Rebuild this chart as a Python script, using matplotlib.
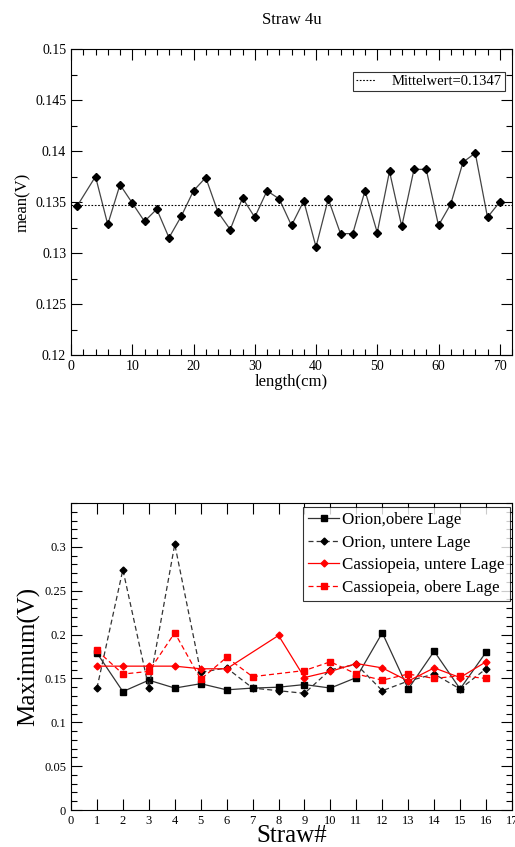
import matplotlib
matplotlib.use("Agg")
import matplotlib.pyplot as plt
from matplotlib.ticker import MultipleLocator
import numpy as np

plt.rcParams['font.family'] = ['Liberation Serif', 'DejaVu Serif']

# --- top chart data ---
length_cm = [1, 4, 6, 8, 10, 12, 14, 16, 18, 20, 22, 24, 26, 28, 30, 32, 34, 36,
             38, 40, 42, 44, 46, 48, 50, 52, 54, 56, 58, 60, 62, 64, 66, 68, 70]
mean_v = [0.1346, 0.1375, 0.1328, 0.1367, 0.1349, 0.1331, 0.1343, 0.1315, 0.1336,
          0.1361, 0.1374, 0.1340, 0.1323, 0.1354, 0.1335, 0.1361, 0.1353, 0.1327,
          0.1351, 0.1306, 0.1353, 0.1319, 0.1319, 0.1361, 0.1320, 0.1380, 0.1326,
          0.1382, 0.1382, 0.1327, 0.1348, 0.1389, 0.1398, 0.1335, 0.1350]
mittelwert = 0.1347

# --- bottom chart data ---
straw = [1, 2, 3, 4, 5, 6, 7, 8, 9, 10, 11, 12, 13, 14, 15, 16]
orion_obere = [0.179, 0.135, 0.148, 0.139, 0.144, 0.137, 0.139, 0.140, 0.143,
               0.139, 0.151, 0.202, 0.138, 0.181, 0.138, 0.180]
orion_untere = [0.139, 0.274, 0.139, 0.303, 0.157, 0.162, 0.139, 0.136, 0.133,
                0.160, 0.166, 0.136, 0.147, 0.155, 0.138, 0.161]
cas_untere_x = [1, 2, 3, 4, 5, 6, 8, 9, 10, 11, 12, 13, 14, 15, 16]
cas_untere = [0.164, 0.164, 0.164, 0.164, 0.161, 0.161, 0.199, 0.151, 0.158,
              0.167, 0.162, 0.147, 0.162, 0.151, 0.169]
cas_obere_x = [1, 2, 3, 4, 5, 6, 7, 9, 10, 11, 12, 13, 14, 15, 16]
cas_obere = [0.182, 0.155, 0.158, 0.202, 0.149, 0.174, 0.152, 0.159, 0.169,
             0.155, 0.148, 0.155, 0.150, 0.153, 0.150]

W, H = 515, 847
fig = plt.figure(figsize=(W / 100, H / 100), dpi=100)

def rect(l, t, r, b):
    return [l / W, 1 - b / H, (r - l) / W, (b - t) / H]

# ---------- top ----------
ax1 = fig.add_axes(rect(71, 49, 512, 355))
ax1.plot(length_cm, mean_v, color='#444444', lw=0.9, marker='D', ms=4.5,
         mfc='black', mec='black')
ax1.axhline(mittelwert, color='black', lw=0.8, ls=(0, (1.5, 1.5)),
            label='Mittelwert=0.1347')
ax1.set_xlim(0, 72)
ax1.set_ylim(0.12, 0.15)
ax1.xaxis.set_major_locator(MultipleLocator(10))
ax1.xaxis.set_minor_locator(MultipleLocator(2))
ax1.yaxis.set_minor_locator(MultipleLocator(0.0025))
ax1.tick_params(which='both', direction='in', top=True, right=True, labelsize=10)
ax1.tick_params(which='major', length=8, width=0.8)
ax1.tick_params(which='minor', length=4, width=0.8)
ax1.set_yticks([0.12, 0.125, 0.13, 0.135, 0.14, 0.145, 0.15])
ax1.set_yticklabels(['0.12', '0.125', '0.13', '0.135', '0.14', '0.145', '0.15'])
ax1.set_xlabel('length(cm)', fontsize=12, labelpad=1)
ax1.set_ylabel('mean(V)', fontsize=12, labelpad=3)
ax1.set_title('Straw 4u', fontsize=12, pad=18)
leg1 = ax1.legend(loc='upper right', bbox_to_anchor=(0.984, 0.925), fontsize=10.5,
                  frameon=True, fancybox=False, edgecolor='black',
                  handlelength=1.3, borderpad=0.2, handletextpad=1.2,
                  borderaxespad=0)
leg1.get_frame().set_linewidth(0.8)

# ---------- bottom ----------
ax2 = fig.add_axes(rect(71, 503, 512, 810))
ax2.plot(straw, orion_obere, color='#333333', lw=0.9, marker='s', ms=5,
         mfc='black', mec='black', label='Orion,obere Lage')
ax2.plot(straw, orion_untere, color='#333333', lw=0.9, ls=(0, (4, 2.5)),
         marker='D', ms=3.5, mfc='black', mec='black', label='Orion, untere Lage')
ax2.plot(cas_untere_x, cas_untere, color='red', lw=0.9, marker='D', ms=3.5,
         mfc='red', mec='red', label='Cassiopeia, untere Lage')
ax2.plot(cas_obere_x, cas_obere, color='red', lw=0.9, ls=(0, (4, 2.5)),
         marker='s', ms=5, mfc='red', mec='red', label='Cassiopeia, obere Lage')
ax2.set_xlim(0, 17)
ax2.set_ylim(0, 0.35)
ax2.xaxis.set_major_locator(MultipleLocator(1))
ax2.yaxis.set_minor_locator(MultipleLocator(0.01))
ax2.tick_params(which='both', direction='in', top=True, right=True, labelsize=9)
ax2.tick_params(which='major', length=8, width=0.8)
ax2.tick_params(which='minor', length=4, width=0.8)
ax2.set_yticks([0, 0.05, 0.1, 0.15, 0.2, 0.25, 0.3])
ax2.set_yticklabels(['0', '0.05', '0.1', '0.15', '0.2', '0.25', '0.3'])
ax2.set_xlabel('Straw#', fontsize=18, labelpad=-1)
ax2.set_ylabel('Maximum(V)', fontsize=18, labelpad=3)
leg2 = ax2.legend(loc='upper right', bbox_to_anchor=(0.995, 0.988), fontsize=12.2,
                  frameon=True, fancybox=False, edgecolor='black',
                  handlelength=1.8, borderpad=0.3, handletextpad=0.2,
                  labelspacing=0.4, borderaxespad=0)
leg2.get_frame().set_linewidth(0.8)

for ax in (ax1, ax2):
    for s in ax.spines.values():
        s.set_linewidth(0.8)

fig.savefig('out.png', dpi=100)
